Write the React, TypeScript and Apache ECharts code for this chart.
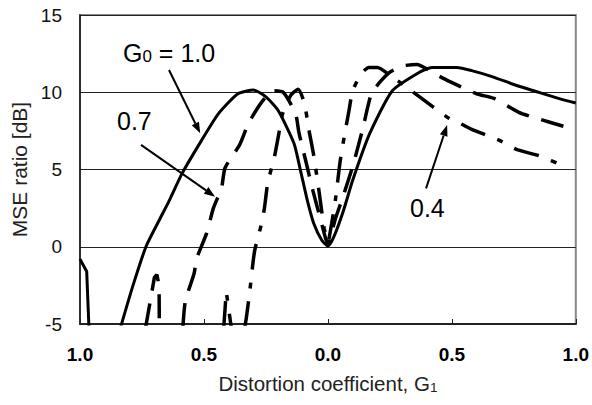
import React, { useEffect, useRef } from 'react';
import * as echarts from 'echarts';

// x tick labels shown on the axis (absolute values of G1)
const xTicks = [-1.0, -0.5, 0.0, 0.5, 1.0];

// G0 = 1.0 (solid)
const g10Lobe = [[-1.0, -0.8], [-0.973, -1.6], [-0.964, -5.2]];
const g10Main = [
  [-0.836, -5.2], [-0.788, -2.6], [-0.734, 0], [-0.681, 1.7], [-0.641, 2.95], [-0.588, 4.75],
  [-0.509, 6.9], [-0.442, 8.6], [-0.363, 9.9], [-0.3, 10.15], [-0.25, 9.7], [-0.2, 8.8],
  [-0.137, 6.7], [-0.11, 4.9], [-0.083, 3.0], [-0.057, 1.5], [-0.024, 0.4], [0, 0.05],
  [0.023, 0.6], [0.062, 2.3], [0.1, 4.3], [0.168, 7.3], [0.26, 10.1], [0.37, 11.3],
  [0.42, 11.6], [0.52, 11.6], [0.58, 11.4], [0.665, 11.0], [0.75, 10.5], [0.83, 10.1],
  [0.93, 9.6], [1.0, 9.3],
];

// G0 = 0.7 (long dash)
const g07Lobe = [[-0.735, -5.2], [-0.7, -2.0], [-0.69, -1.8], [-0.681, -2.5], [-0.68, -5.2]];
const g07Main = [
  [-0.585, -5.2], [-0.575, -3.5], [-0.54, -1.75], [-0.529, -0.74], [-0.489, 0.88], [-0.462, 2.5],
  [-0.429, 3.8], [-0.415, 5.1], [-0.356, 6.6], [-0.32, 8.0], [-0.27, 9.3], [-0.22, 10.1],
  [-0.18, 10.0], [-0.13, 8.6], [-0.117, 7.4], [-0.09, 5.6], [-0.06, 3.6], [-0.03, 1.8],
  [0, 0.2], [0.03, 1.8], [0.06, 3.2], [0.1, 5.2], [0.14, 7.6], [0.175, 9.9], [0.207, 10.6],
  [0.25, 11.3], [0.3, 11.7], [0.36, 11.8], [0.4, 11.5], [0.43, 11.2], [0.49, 10.7],
  [0.6, 9.9], [0.67, 9.6], [0.77, 8.7], [0.845, 8.3], [0.95, 7.8],
];

// G0 = 0.4 (dash-dot)
const g04Lobe = [[-0.42, -5.2], [-0.41, -2.9], [-0.39, -5.2]];
const g04Main = [
  [-0.335, -5.2], [-0.329, -4.6], [-0.316, -3.0], [-0.296, -0.3], [-0.27, 1.35], [-0.256, 2.5],
  [-0.243, 4.1], [-0.216, 5.8], [-0.197, 7.4], [-0.183, 8.6], [-0.15, 9.8], [-0.12, 10.2],
  [-0.095, 9.3], [-0.077, 7.6], [-0.057, 5.9], [-0.035, 3.5], [-0.015, 1.2], [0, 0.3],
  [0.015, 1.5], [0.03, 3.0], [0.05, 5.6], [0.07, 7.5], [0.085, 8.8], [0.1, 10.1],
  [0.135, 11.2], [0.165, 11.6], [0.2, 11.6], [0.25, 11.1], [0.32, 10.3], [0.42, 9.1],
  [0.49, 8.3], [0.52, 8.1], [0.58, 7.6], [0.69, 6.9], [0.76, 6.3], [0.85, 5.9], [0.955, 5.2],
];

// annotation arrows in data coordinates: [start, tip]
const arrows = [
  [[-0.641, 11.44], [-0.515, 7.34]],
  [[-0.754, 6.59], [-0.455, 3.24]],
  [[0.396, 3.78], [0.481, 7.88]],
];

const FONT = '"Liberation Sans", Arial, sans-serif';

export default function App() {
  const ref = useRef<HTMLDivElement>(null);
  useEffect(() => {
    document.body.style.margin = '0';
    const chart = echarts.init(ref.current!, null, { renderer: 'svg' });
    const solid = { color: '#000', width: 3, type: 'solid' as any };
    const longDash = { color: '#000', width: 3.5, type: [24, 13] as any };
    const dashDot = { color: '#000', width: 3.5, type: [26, 13, 6, 13] as any };
    const mk = (data: number[][], ls: any, smooth = 0.2) => ({
      type: 'line', data, showSymbol: false, symbol: 'none', lineStyle: ls,
      clip: true, silent: true, z: 3, smooth,
    });
    chart.setOption({
      animation: false,
      textStyle: { fontFamily: FONT },
      grid: { left: 80, right: 10, top: 15, bottom: 81, show: true, borderColor: '#888', borderWidth: 2 },
      xAxis: {
        type: 'value', min: -1, max: 1, interval: 0.5,
        axisLine: { show: true, onZero: false, lineStyle: { color: '#222', width: 2 } },
        axisTick: { show: true, inside: true, length: 5, lineStyle: { color: '#222', width: 1 } },
        axisLabel: {
          fontSize: 19, fontWeight: 'bold', color: '#000', margin: 21, fontFamily: FONT,
          formatter: (v: number) => Math.abs(v).toFixed(1),
        },
        splitLine: { show: false },
        name: '{a|Distortion coefficient, G}{b|1}',
        nameLocation: 'middle', nameGap: 49,
        nameTextStyle: {
          rich: {
            a: { fontSize: 20.5, color: '#222', fontFamily: FONT },
            b: { fontSize: 13.5, color: '#222', fontFamily: FONT, padding: [7, 0, 0, 0] },
          },
        },
      },
      yAxis: {
        type: 'value', min: -5, max: 15, interval: 5,
        axisLine: { show: true, onZero: false, lineStyle: { color: '#111', width: 1.5 } },
        axisTick: { show: false },
        axisLabel: { fontSize: 19, color: '#111', margin: 18, fontFamily: FONT },
        splitLine: { show: true, lineStyle: { color: '#222', width: 1 } },
        name: 'MSE ratio [dB]', nameLocation: 'middle', nameGap: 50,
        nameTextStyle: { fontSize: 21, color: '#222', fontFamily: FONT },
      },
      series: [
        mk(g10Lobe, solid, 0), mk(g10Main, solid),
        mk(g07Lobe, longDash, 0), mk(g07Main, longDash),
        mk(g04Lobe, dashDot, 0), mk(g04Main, dashDot),
      ],
    });

    const graphics: any[] = [];
    arrows.forEach(([s, t]) => {
      const p0 = chart.convertToPixel({ gridIndex: 0 }, s) as number[];
      const p1 = chart.convertToPixel({ gridIndex: 0 }, t) as number[];
      const dx = p1[0] - p0[0], dy = p1[1] - p0[1];
      const L = Math.hypot(dx, dy);
      const ux = dx / L, uy = dy / L;
      const hl = 11, hw = 4;
      const bx = p1[0] - ux * hl, by = p1[1] - uy * hl;
      graphics.push({
        type: 'line', z: 10,
        shape: { x1: p0[0], y1: p0[1], x2: bx, y2: by },
        style: { stroke: '#000', lineWidth: 2 },
      });
      graphics.push({
        type: 'polygon', z: 10,
        shape: { points: [[p1[0], p1[1]], [bx - uy * hw, by + ux * hw], [bx + uy * hw, by - ux * hw]] },
        style: { fill: '#000' },
      });
    });
    const richAnn = {
      a: { fontSize: 25, fontFamily: FONT, fill: '#000' },
      s: { fontSize: 17, fontFamily: FONT, fill: '#000', padding: [8, 0, 0, 0] },
    };
    graphics.push({
      type: 'text', x: 123, y: 40, z: 10,
      style: { text: '{a|G}{s|0}{a| = 1.0}', rich: richAnn, fill: '#000', align: 'left', verticalAlign: 'top' },
    });
    graphics.push({
      type: 'text', x: 117, y: 108, z: 10,
      style: { text: '0.7', fontSize: 25, fontFamily: FONT, fill: '#000', align: 'left', verticalAlign: 'top' },
    });
    graphics.push({
      type: 'text', x: 410, y: 195, z: 10,
      style: { text: '0.4', fontSize: 25, fontFamily: FONT, fill: '#000', align: 'left', verticalAlign: 'top' },
    });
    chart.setOption({ graphic: graphics });
    return () => chart.dispose();
  }, []);
  return <div ref={ref} style={{ width: 592, height: 405 }} />;
}
